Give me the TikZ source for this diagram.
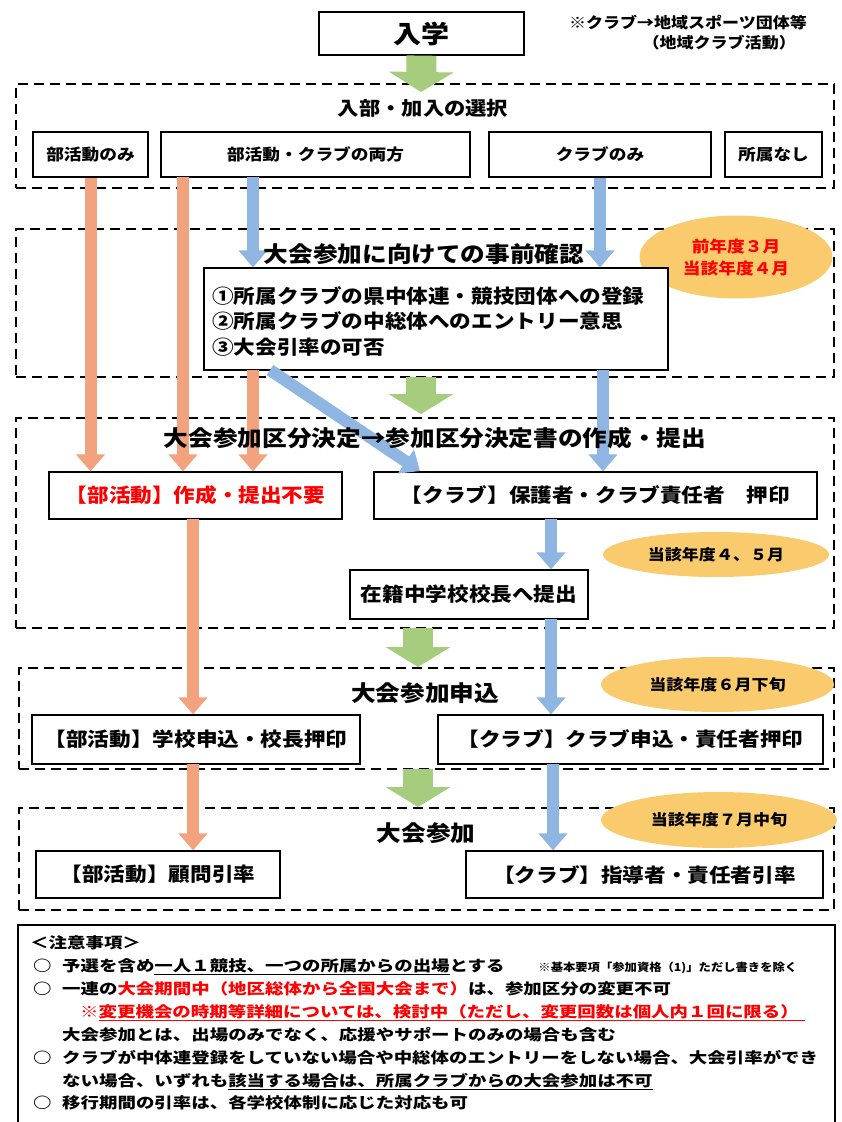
\documentclass[tikz,border=0pt]{standalone}
\usepackage{fontspec}
\usetikzlibrary{arrows.meta,shapes.geometric}
\newfontfamily\jp{Noto Sans CJK JP}[FakeStretch=1.12]
\newfontfamily\jpn{Noto Sans CJK JP}[FakeStretch=1.23]
\newcommand\fsz[1]{\fontsize{#1}{#1}\selectfont}
\definecolor{orA}{HTML}{F2A27C}
\definecolor{blA}{HTML}{8FB6E3}
\definecolor{grA}{HTML}{A5CD7D}
\definecolor{elF}{HTML}{FACB6C}
\definecolor{redT}{HTML}{FF0000}
\begin{document}
\begin{tikzpicture}[x=1pt,y=-1pt,
 bx/.style={draw=black,line width=1.2pt,fill=white,inner sep=0pt},
 frm/.style={draw=black,line width=2.6pt,dash pattern=on 10pt off 6pt,inner sep=0pt},
 oarr/.style={draw=orA,line width=12pt,-{Triangle[width=28pt,length=17pt]}},
 barr/.style={draw=blA,line width=12pt,-{Triangle[width=28pt,length=17pt]}},
 garr/.style={draw=grA,line width=30pt,-{Triangle[width=64pt,length=20pt]}},
 ell/.style={ellipse,fill=elF,inner sep=0pt,align=center},
 ttl/.style={inner sep=0pt,font=\jp\bfseries\fsz{22}},
 btx/.style={font=\jp\bfseries\fsz{19.3}},
 stx/.style={font=\jp\bfseries\fsz{15.8}},
 ntx/.style={inner sep=0pt,anchor=base west,font=\jpn\bfseries\fsz{15}},
]
\useasboundingbox (0,0) rectangle (841,1122);
\fill[white] (0,0) rectangle (841,1122);

% dashed frames
\node[frm,minimum width=818pt,minimum height=104pt] (d1) at (425,136) {};
\node[frm,minimum width=818pt,minimum height=148pt] (d2) at (425,303) {};
\node[frm,minimum width=818pt,minimum height=210pt] (d3) at (425,523) {};
\node[frm,minimum width=815pt,minimum height=101pt] (d4) at (426.5,718.5) {};
\node[frm,minimum width=815pt,minimum height=102pt] (d5) at (426.5,859) {};

% ellipses (schedule tags)
\node[ell,minimum width=193pt,minimum height=83pt,text=redT,font=\jp\bfseries\fontsize{15.8}{22}\selectfont] (e1) at (736,257) {前年度３月\\当該年度４月};
\node[ell,minimum width=226pt,minimum height=45pt,font=\jp\bfseries\fsz{15.2}] (e2) at (716,554.5) {当該年度４、５月};
\node[ell,minimum width=233pt,minimum height=55pt,font=\jp\bfseries\fsz{15.2}] (e3) at (717.5,684.5) {当該年度６月下旬};
\node[ell,minimum width=236pt,minimum height=56pt,font=\jp\bfseries\fsz{15.2}] (e4) at (719,820) {当該年度７月中旬};

% boxes
\node[bx,minimum width=205pt,minimum height=43pt,font=\jp\bfseries\fsz{25}] (ny) at (421.5,33.5) {入学};
\node[bx,stx,minimum width=115pt,minimum height=45pt] (b1) at (90.5,154.5) {部活動のみ};
\node[bx,stx,minimum width=309pt,minimum height=45pt] (b2) at (315.5,154.5) {部活動・クラブの両方};
\node[bx,stx,minimum width=222pt,minimum height=45pt] (b3) at (600,154.5) {クラブのみ};
\node[bx,stx,minimum width=97pt,minimum height=45pt] (b4) at (773.5,154.5) {所属なし};
\node[bx,minimum width=464pt,minimum height=102pt] (chk) at (436,319) {};
\node[bx,btx,minimum width=293pt,minimum height=47pt,text=redT] (s3a) at (195.5,495.5) {【部活動】作成・提出不要};
\node[bx,btx,minimum width=443pt,minimum height=47pt] (s3b) at (595.5,495.5) {【クラブ】保護者・クラブ責任者　押印};
\node[bx,btx,minimum width=238pt,minimum height=49pt] (s3c) at (469,594.5) {在籍中学校校長へ提出};
\node[bx,btx,minimum width=328pt,minimum height=49pt] (s4a) at (196,739.5) {【部活動】学校申込・校長押印};
\node[bx,btx,minimum width=385pt,minimum height=49pt] (s4b) at (630.5,739.5) {【クラブ】クラブ申込・責任者押印};
\node[bx,btx,minimum width=244pt,minimum height=47pt] (s5a) at (158,874.5) {【部活動】顧問引率\hspace{24pt}};
\node[bx,btx,minimum width=357pt,minimum height=47pt] (s5b) at (644.5,874.5) {【クラブ】指導者・責任者引率};

% arrow end points
\coordinate (g1) at (421,92);
\coordinate (g2a) at (421,377); \coordinate (g2b) at (421,414);
\coordinate (g3a) at (418,628); \coordinate (g3b) at (418,667);
\coordinate (g4a) at (418,769); \coordinate (g4b) at (418,807);
\coordinate (o2) at (183,177);
\coordinate (o3) at (253,370);
\coordinate (o4) at (193,519);
\coordinate (o5) at (193,764);
\coordinate (bl1) at (253,177);
\coordinate (bl3) at (603,370);
\coordinate (bd1) at (270,370); \coordinate (bd2) at (420,471);
\coordinate (bl5) at (551,519);
\coordinate (bl6) at (551,619);
\coordinate (bl7) at (553,764);

% green flow arrows
\draw[garr] (ny.south) -- (g1);
\draw[garr] (g2a) -- (g2b);
\draw[garr] (g3a) -- (g3b);
\draw[garr] (g4a) -- (g4b);
% orange
\draw[oarr] (b1.south) -- (b1.south |- s3a.north);
\draw[oarr] (o2) -- (o2 |- s3a.north);
\draw[oarr] (o3) -- (o3 |- s3a.north);
\draw[oarr] (o4) -- (o4 |- s4a.north);
\draw[oarr] (o5) -- (o5 |- s5a.north);
% blue
\draw[barr] (bl1) -- (bl1 |- chk.north);
\draw[barr] (b3.south) -- (b3.south |- chk.north);
\draw[barr] (bl3) -- (bl3 |- s3b.north);
\draw[barr] (bd1) -- (bd2);
\draw[barr] (bl5) -- (bl5 |- s3c.north);
\draw[barr] (bl6) -- (bl6 |- s4b.north);
\draw[barr] (bl7) -- (bl7 |- s5b.north);

% titles
\node[ttl,font=\jp\bfseries\fsz{19}] (t1) at (423,108) {入部・加入の選択};
\node[ttl] (t2) at (424,254) {大会参加に向けての事前確認};
\node[ttl] (t3) at (435,438) {大会参加区分決定→参加区分決定書の作成・提出};
\node[ttl] (t4) at (425,693) {大会参加申込};
\node[ttl] (t5) at (426,833) {大会参加};

% check list
\node[btx,inner sep=0pt,anchor=west] (c1) at (212,296) {①所属クラブの県中体連・競技団体への登録};
\node[btx,inner sep=0pt,anchor=west] (c2) at (212,321) {②所属クラブの中総体へのエントリー意思};
\node[btx,inner sep=0pt,anchor=west] (c3) at (212,347) {③大会引率の可否};

% top-right note
\node[inner sep=0pt,font=\jp\bfseries\fsz{15.2}] (nt1) at (688,23) {※クラブ→地域スポーツ団体等};
\node[inner sep=0pt,anchor=east,font=\jp\bfseries\fsz{15.2}] (nt2) at (796,43) {（地域クラブ活動）};

% notes box
\draw[line width=1.4pt] (18,1130) -- (18,925) -- (835,925) -- (835,1130);
\node[ntx] (n0) at (30,948) {＜注意事項＞};
\node[ntx] (m1) at (33,971) {○};
\node[ntx] (n1) at (62,971) {予選を含め\underline{一人１競技、一つの所属からの出場}とする\hspace{34pt}{\jp\fsz{11}※基本要項「参加資格（1)」ただし書きを除く}};
\node[ntx] (m2) at (33,994) {○};
\node[ntx] (n2) at (62,994) {一連の\textcolor{redT}{大会期間中（地区総体から全国大会まで）}は、参加区分の変更不可};
\node[ntx,text=redT] (n3) at (80,1017) {※\underline{変更機会の時期等詳細については、検討中（ただし、変更回数は個人内１回に限る）\hspace{6pt}}};
\node[ntx] (n4) at (62,1040) {大会参加とは、出場のみでなく、応援やサポートのみの場合も含む};
\node[ntx] (m5) at (33,1063) {○};
\node[ntx] (n5) at (62,1063) {クラブが中体連登録をしていない場合や中総体のエントリーをしない場合、大会引率ができ};
\node[ntx] (n6) at (62,1086) {ない場合、いずれも\underline{該当する場合は、所属クラブからの大会参加は不可}};
\node[ntx] (m7) at (33,1108) {○};
\node[ntx] (n7) at (62,1108) {移行期間の引率は、各学校体制に応じた対応も可};
\end{tikzpicture}
\end{document}
